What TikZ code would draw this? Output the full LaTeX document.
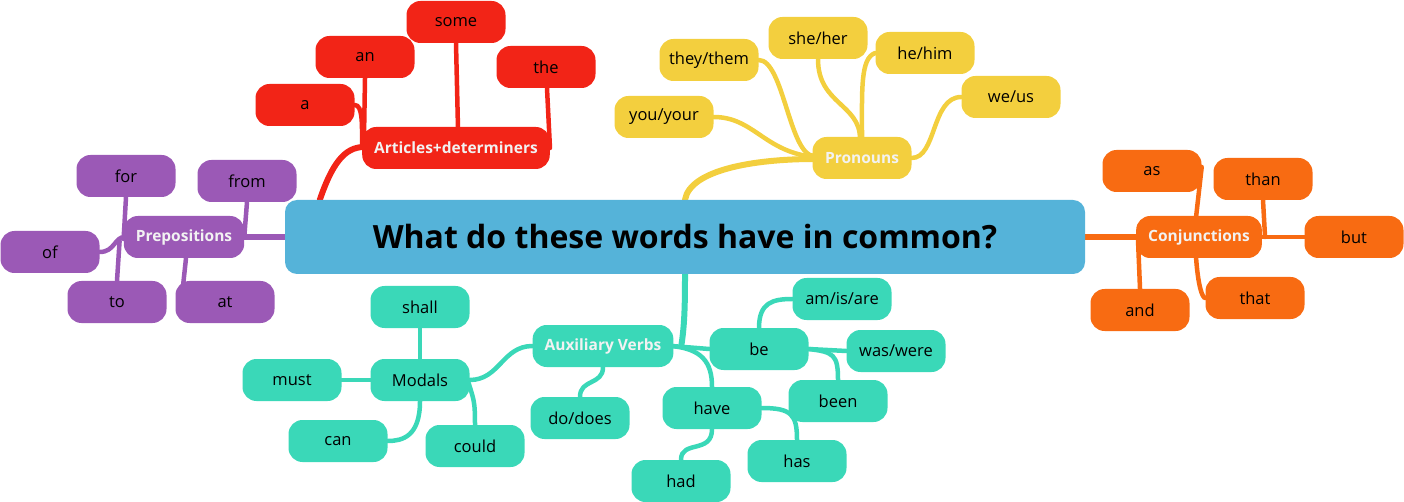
\documentclass[tikz,border=0pt]{standalone}
\usepackage{fontspec}
\setmainfont{Open Sans}
\usetikzlibrary{backgrounds,calc}
\definecolor{cred}{HTML}{F22417}
\definecolor{cyel}{HTML}{F3CF3E}
\definecolor{cpur}{HTML}{9B59B6}
\definecolor{cora}{HTML}{F86B12}
\definecolor{ctea}{HTML}{3AD8B8}
\definecolor{cblu}{HTML}{55B3D9}
\definecolor{ltxt}{HTML}{F2F2F2}
\begin{document}
\begin{tikzpicture}[x=1pt,y=-1pt,
  leaf/.style={rounded corners=14pt,minimum width=99pt,minimum height=42pt,inner sep=0pt,font=\fontsize{16.5}{19}\selectfont,text=black},
  hub/.style={leaf,font=\fontsize{15.5}{18}\selectfont\bfseries,text=ltxt,inner xsep=12pt},
  link/.style={line width=4.5pt,line cap=round},
  trunk/.style={line width=6pt,line cap=round}]
\useasboundingbox (0,0) rectangle (1404,502);
% centre
\node[fill=cblu,rounded corners=12pt,minimum width=800pt,minimum height=74pt,inner sep=0pt,font=\fontsize{32}{36}\selectfont\bfseries] (c) at (685,237) {What do these words have in common?};
% red
\node[hub,fill=cred,minimum width=183pt] (art) at (456,148) {Articles+determiners};
\node[leaf,fill=cred] (a) at (305,105) {a};
\node[leaf,fill=cred] (an) at (365,57) {an};
\node[leaf,fill=cred] (some) at (456,22) {some};
\node[leaf,fill=cred] (the) at (546,67) {the};
% yellow
\node[hub,fill=cyel] (pro) at (862,158) {Pronouns};
\node[leaf,fill=cyel] (you) at (664,117) {you/your};
\node[leaf,fill=cyel] (they) at (709,60) {they/them};
\node[leaf,fill=cyel] (she) at (818,38) {she/her};
\node[leaf,fill=cyel] (he) at (925,53) {he/him};
\node[leaf,fill=cyel] (we) at (1011,97) {we/us};
% purple
\node[hub,fill=cpur,minimum width=120pt] (prep) at (184,237) {Prepositions};
\node[leaf,fill=cpur] (for) at (126,176) {for};
\node[leaf,fill=cpur] (from) at (247,181) {from};
\node[leaf,fill=cpur] (of) at (50,252) {of};
\node[leaf,fill=cpur] (to) at (117,302) {to};
\node[leaf,fill=cpur] (at) at (225,302) {at};
% orange
\node[hub,fill=cora,minimum width=121pt] (conj) at (1199,237) {Conjunctions};
\node[leaf,fill=cora] (as) at (1152,171) {as};
\node[leaf,fill=cora] (than) at (1263,179) {than};
\node[leaf,fill=cora] (but) at (1354,237) {but};
\node[leaf,fill=cora] (that) at (1255,298) {that};
\node[leaf,fill=cora] (and) at (1140,310) {and};
% teal
\node[hub,fill=ctea,minimum width=140pt] (aux) at (603,346) {Auxiliary Verbs};
\node[leaf,fill=ctea] (mod) at (420,380) {Modals};
\node[leaf,fill=ctea] (shall) at (420,307) {shall};
\node[leaf,fill=ctea] (must) at (292,380) {must};
\node[leaf,fill=ctea] (can) at (338,441) {can};
\node[leaf,fill=ctea] (could) at (475,446) {could};
\node[leaf,fill=ctea] (do) at (580,418) {do/does};
\node[leaf,fill=ctea] (be) at (759,349) {be};
\node[leaf,fill=ctea] (am) at (842,299) {am/is/are};
\node[leaf,fill=ctea] (was) at (896,351) {was/were};
\node[leaf,fill=ctea] (been) at (838,401) {been};
\node[leaf,fill=ctea] (have) at (712,408) {have};
\node[leaf,fill=ctea] (had) at (681,481) {had};
\node[leaf,fill=ctea] (has) at (797,461) {has};
\begin{scope}[on background layer]
% red
\draw[trunk,cred] ($(c.north west)+(35,0)$) .. controls +(12,-35) and +(-20,0) .. ($(art.west)+(2,-1)$);
\draw[link,cred] (a.east) .. controls +(8,0) and +(0,-20) .. ($(art.west)+(0,-4)$);
\draw[link,cred] (an.south) -- ($(art.north west)+(2,8)$);
\draw[link,cred] (some.south) -- ($(art.north)+(2,2)$);
\draw[link,cred] ($(the.south)+(1,0)$) -- (art.east);
% yellow
\draw[trunk,cyel] (c.north) .. controls +(5,-30) and +(-60,0) .. ($(pro.west)+(2,1)$);
\draw[link,cyel] (you.east) .. controls +(40,0) and +(-50,-5) .. ($(pro.west)+(2,-1)$);
\draw[link,cyel] (they.east) .. controls +(25,0) and +(-25,0) .. ($(pro.west)+(2,-2)$);
\draw[link,cyel] (she.south) .. controls +(0,45) and +(0,-35) .. ($(pro.north)+(-2,2)$);
\draw[link,cyel] (he.west) .. controls +(-15,5) and +(0,-50) .. ($(pro.north)+(0,2)$);
\draw[link,cyel] (we.west) .. controls +(-30,0) and +(25,0) .. (pro.east);
% purple
\draw[trunk,cpur] ($(c.west)+(2,0)$) -- (prep.east);
\draw[link,cpur] (for.south) -- ($(prep.west)+(0,2)$);
\draw[link,cpur] (from.south) -- ($(prep.east)+(0,-2)$);
\draw[link,cpur] (of.east) .. controls +(15,0) and +(-10,0) .. ($(prep.west)+(1,0)$);
\draw[link,cpur] ($(prep.west)+(-4,4)$) -- (to.north);
\draw[link,cpur] ($(prep.south)+(2,0)$) -- ($(at.west)+(6,0)$);
% orange
\draw[trunk,cora] ($(c.east)+(-2,0)$) -- (conj.west);
\draw[link,cora] ($(as.east)+(0,-4)$) -- ($(conj.north west)+(60,2)$);
\draw[link,cora] ($(conj.south west)+(60,-2)$) .. controls +(2,30) and +(-3,0) .. (that.west);
\draw[link,cora] (than.south) -- ($(conj.east)+(3,0)$);
\draw[link,cora] (conj.east) -- (but.west);
\draw[link,cora] (and.north) -- ($(conj.west)+(2,2)$);
% teal
\draw[trunk,ctea] (c.south) .. controls +(0,30) and +(3,-20) .. ($(aux.east)+(8,-2)$);
\draw[link,ctea] (aux.west) .. controls +(-30,0) and +(30,0) .. (mod.east);
\draw[link,ctea] (aux.south) .. controls +(0,18) and +(0,-18) .. (do.north);
\draw[link,ctea] ($(aux.east)+(-2,0)$) -- (be.west);
\draw[link,ctea] ($(aux.east)+(-2,0)$) .. controls +(30,3) and +(0,-25) .. (have.north);
\draw[link,ctea] (mod.north) -- (shall.south);
\draw[link,ctea] (must.east) -- (mod.west);
\draw[link,ctea] (mod.south) .. controls +(0,35) and +(15,0) .. (can.east);
\draw[link,ctea] ($(mod.east)+(-2,0)$) .. controls +(6,20) and +(0,-25) .. (could.north);
\draw[link,ctea] (be.north) .. controls +(0,-25) and +(-20,0) .. (am.west);
\draw[link,ctea] (be.east) -- (was.west);
\draw[link,ctea] (be.east) .. controls +(25,3) and +(0,-25) .. (been.north);
\draw[link,ctea] (have.south) .. controls +(0,25) and +(0,-20) .. (had.north);
\draw[link,ctea] (have.east) .. controls +(30,0) and +(0,-25) .. (has.north);
\end{scope}
\end{tikzpicture}
\end{document}
